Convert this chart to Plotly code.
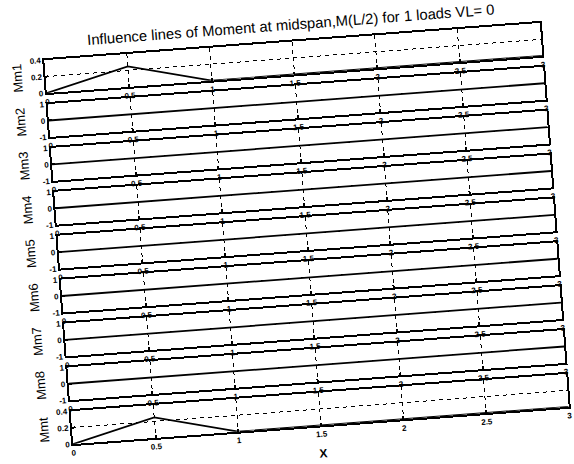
import plotly.graph_objects as go
from plotly.subplots import make_subplots

# Load positions along the beam
x_pos = [0, 0.5, 1, 1.5, 2, 2.5, 3]

# Influence-line ordinates for each member / total
mm1 = [0, 0.25, 0, 0, 0, 0, 0]
mm2 = [0, 0, 0, 0, 0, 0, 0]
mm3 = [0, 0, 0, 0, 0, 0, 0]
mm4 = [0, 0, 0, 0, 0, 0, 0]
mm5 = [0, 0, 0, 0, 0, 0, 0]
mm6 = [0, 0, 0, 0, 0, 0, 0]
mm7 = [0, 0, 0, 0, 0, 0, 0]
mm8 = [0, 0, 0, 0, 0, 0, 0]
mmt = [0, 0.25, 0, 0, 0, 0, 0]

panel_names = ["Mm1", "Mm2", "Mm3", "Mm4", "Mm5", "Mm6", "Mm7", "Mm8", "Mmt"]
panel_values = [mm1, mm2, mm3, mm4, mm5, mm6, mm7, mm8, mmt]

x_ticks = [0, 0.5, 1, 1.5, 2, 2.5, 3]
x_tick_labels = ["0", "0.5", "1", "1.5", "2", "2.5", "3"]

small_ticks = [0, 0.2, 0.4]
small_tick_labels = ["0", "0.2", "0.4"]
unit_ticks = [-1, 0, 1]
unit_tick_labels = ["-1", "0", "1"]

title_text = "Influence lines of Moment at midspan,M(L/2) for 1 loads VL= 0"

W, H = 574, 464
M_L, M_R, M_T, M_B = 58, 19, 41, 38
plot_h = H - M_T - M_B
gap = 11

FONT = "Liberation Sans, Arial, Helvetica, sans-serif"

fig = make_subplots(rows=len(panel_names), cols=1,
                    vertical_spacing=gap / plot_h)

for i, (name, vals) in enumerate(zip(panel_names, panel_values), start=1):
    fig.add_trace(go.Scatter(x=x_pos, y=vals, mode="lines",
                             line=dict(color="black", width=1.8),
                             showlegend=False, hoverinfo="skip"),
                  row=i, col=1)
    if name in ("Mm1", "Mmt"):
        yr, yt, yl = [0, 0.4], small_ticks, small_tick_labels
    else:
        yr, yt, yl = [-1, 1], unit_ticks, unit_tick_labels
    common = dict(showline=True, mirror=True, linecolor="black", linewidth=1.8,
                  ticks="inside", ticklen=3, tickcolor="black", tickwidth=1.5,
                  showgrid=True, gridcolor="black", gridwidth=1.3,
                  griddash="4px,4px", zeroline=False,
                  tickfont=dict(family=FONT, size=8, color="black", weight="bold"))
    fig.update_xaxes(range=[0, 3], tickvals=x_ticks, ticktext=x_tick_labels,
                     row=i, col=1, **common)
    fig.update_yaxes(range=yr, tickvals=yt, ticktext=yl, row=i, col=1, **common)

# Panel labels on the left
n = len(panel_names)
seg = (1 - (n - 1) * gap / plot_h) / n
for i, name in enumerate(panel_names):
    top = 1 - i * (seg + gap / plot_h)
    fig.add_annotation(text=name, xref="paper", yref="paper",
                       x=-28 / (W - M_L - M_R), y=top - seg / 2,
                       textangle=-90, showarrow=False,
                       xanchor="center", yanchor="middle",
                       font=dict(family=FONT, size=13, color="black"))

# X label under the last panel
fig.add_annotation(text="X", xref="paper", yref="paper",
                   x=0.5, y=-27.5 / plot_h, showarrow=False,
                   xanchor="center", yanchor="middle",
                   font=dict(family=FONT, size=12, color="black", weight="bold"))

fig.update_layout(
    width=W, height=H,
    margin=dict(l=M_L, r=M_R, t=M_T, b=M_B),
    paper_bgcolor="white", plot_bgcolor="white",
    title=dict(text=title_text, x=0.5, xref="paper",
               y=1 - 24 / H, yref="container", yanchor="middle",
               font=dict(family=FONT, size=14.8, color="black")),
)

# Tilt the page slightly, as the printed sheet sits on the page
tilt_js = """
document.body.style.margin = '0';
var gd = document.getElementById('{plot_id}');
gd.style.transformOrigin = '306.5px 233.5px';
gd.style.transform = 'rotate(-4.3deg)';
"""

fig.write_html("out.html", config={"displayModeBar": False}, post_script=tilt_js)
